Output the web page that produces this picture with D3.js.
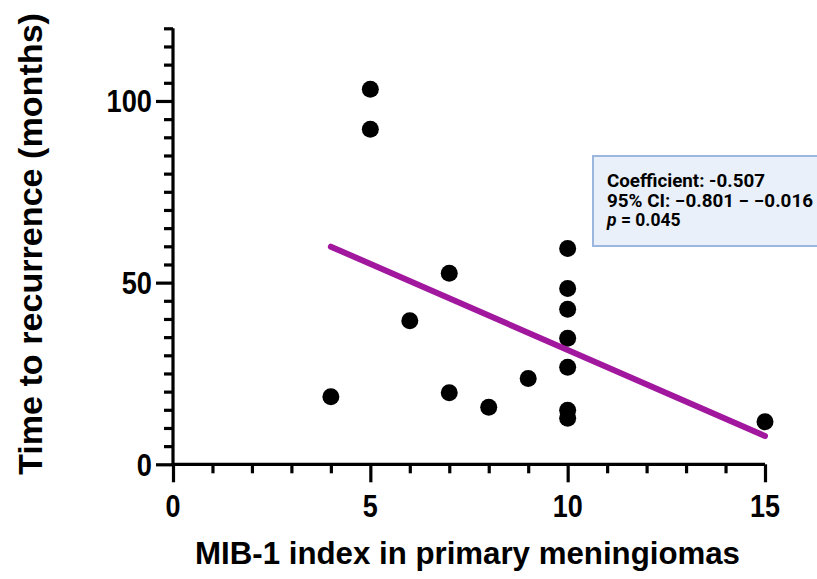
<!DOCTYPE html>
<html><head><meta charset="utf-8">
<script src="https://cdn.jsdelivr.net/npm/d3@7"></script>
<style>html,body{margin:0;padding:0;background:#fff;}svg{display:block;}</style>
</head><body>
<svg id="c" width="817" height="579"></svg>
<script>
// Data
const mib1 = [4, 5, 5, 6, 7, 7, 8, 9, 10, 10, 10, 10, 10, 10, 10, 15];
const months = [18.6, 103.2, 92.2, 39.5, 52.6, 19.7, 15.7, 23.6, 59.4, 48.4, 42.7, 34.7, 26.7, 14.9, 12.7, 11.7];
const fitX = [4, 15];
const fitY = [59.9, 7.8];
const xTicks = [0, 5, 10, 15];
const yTicks = [0, 50, 100];
const statLines = ["Coefficient: -0.507", "95% CI: \u22120.801 \u2212 \u22120.016"];
const pValue = "0.045";

const svg = d3.select("#c");
const x = d3.scaleLinear().domain([0, 15]).range([173, 765]);
const y = d3.scaleLinear().domain([0, 120]).range([464.3, 28.3]);
const FONT = "'Liberation Sans', Arial, Helvetica, sans-serif";

// Legend box
const lg = svg.append("g");
lg.append("rect").attr("x", 593).attr("y", 156).attr("width", 260).attr("height", 90)
  .attr("fill", "#e9f0f9").attr("stroke", "#9cb7df").attr("stroke-width", 2);
const legendW = [158, 206];
statLines.forEach((t, i) => {
  lg.append("text").attr("x", 607).attr("y", 187 + i * 19.5)
    .style("font-family", "Roboto, sans-serif").style("font-weight", 700).style("font-size", "17.5px")
    .attr("textLength", legendW[i]).attr("lengthAdjust", "spacingAndGlyphs")
    .text(t);
});
const pt = lg.append("text").attr("x", 607).attr("y", 226)
  .style("font-family", "Roboto, sans-serif").style("font-weight", 700).style("font-size", "17.5px");
pt.append("tspan").style("font-style", "italic").text("p");
pt.append("tspan").text(" = " + pValue);

// Axes
const yAxis = d3.axisLeft(y).tickValues(d3.range(0, 121, 5)).tickSize(9).tickFormat("");
const gy = svg.append("g").attr("transform", "translate(173,0)").call(yAxis);
const xAxis = d3.axisBottom(x).tickValues(d3.range(0, 16, 1)).tickSize(9).tickFormat("");
const gx = svg.append("g").attr("transform", "translate(0,464.3)").call(xAxis);
[gx, gy].forEach(g => {
  g.select(".domain").attr("stroke", "#000").attr("stroke-width", 3.2);
  g.selectAll(".tick line").attr("stroke", "#000").attr("stroke-width", 3.2);
});
gy.select(".domain").attr("d", `M0,${y(0)}V${y(120)}`);
gx.select(".domain").attr("d", `M${x(0)},0H${x(15)}`);
gy.selectAll(".tick line").filter(d => d % 50 === 0).attr("x2", -17);
gx.selectAll(".tick line").filter(d => d % 5 === 0).attr("y2", 18);

// Tick labels
function squeeze(sel, f) {
  sel.each(function () { const L = this.getComputedTextLength(); d3.select(this).attr("textLength", L * f).attr("lengthAdjust", "spacingAndGlyphs"); });
}
const yl = svg.append("g").selectAll("text").data(yTicks).join("text")
  .attr("x", 152).attr("y", d => y(d) + 11.5).attr("text-anchor", "end")
  .style("font-family", FONT).style("font-weight", 700).style("font-size", "32px")
  .text(d => d);
squeeze(yl, 0.85);
const xl = svg.append("g").selectAll("text").data(xTicks).join("text")
  .attr("x", d => x(d)).attr("y", 517).attr("text-anchor", "middle")
  .style("font-family", FONT).style("font-weight", 700).style("font-size", "31px")
  .text(d => d);
squeeze(xl, 0.87);

// Axis titles
svg.append("text").attr("x", 467.5).attr("y", 564).attr("text-anchor", "middle")
  .style("font-family", FONT).style("font-weight", 700).style("font-size", "31px")
  .attr("textLength", 545).attr("lengthAdjust", "spacingAndGlyphs")
  .text("MIB-1 index in primary meningiomas");
svg.append("text").attr("transform", "translate(42,244) rotate(-90)").attr("text-anchor", "middle")
  .style("font-family", FONT).style("font-weight", 700).style("font-size", "34px")
  .attr("textLength", 462).attr("lengthAdjust", "spacingAndGlyphs")
  .text("Time to recurrence (months)");

// Points
svg.append("g").selectAll("circle").data(mib1.map((v, i) => [v, months[i]])).join("circle")
  .attr("cx", d => x(d[0])).attr("cy", d => y(d[1])).attr("r", 8.5).attr("fill", "#000");

// Fit line
svg.append("path").datum(fitX.map((v, i) => [v, fitY[i]]))
  .attr("d", d3.line().x(d => x(d[0])).y(d => y(d[1])))
  .attr("stroke", "#a1189e").attr("stroke-width", 6).attr("stroke-linecap", "round").attr("fill", "none");
</script>
</body></html>
